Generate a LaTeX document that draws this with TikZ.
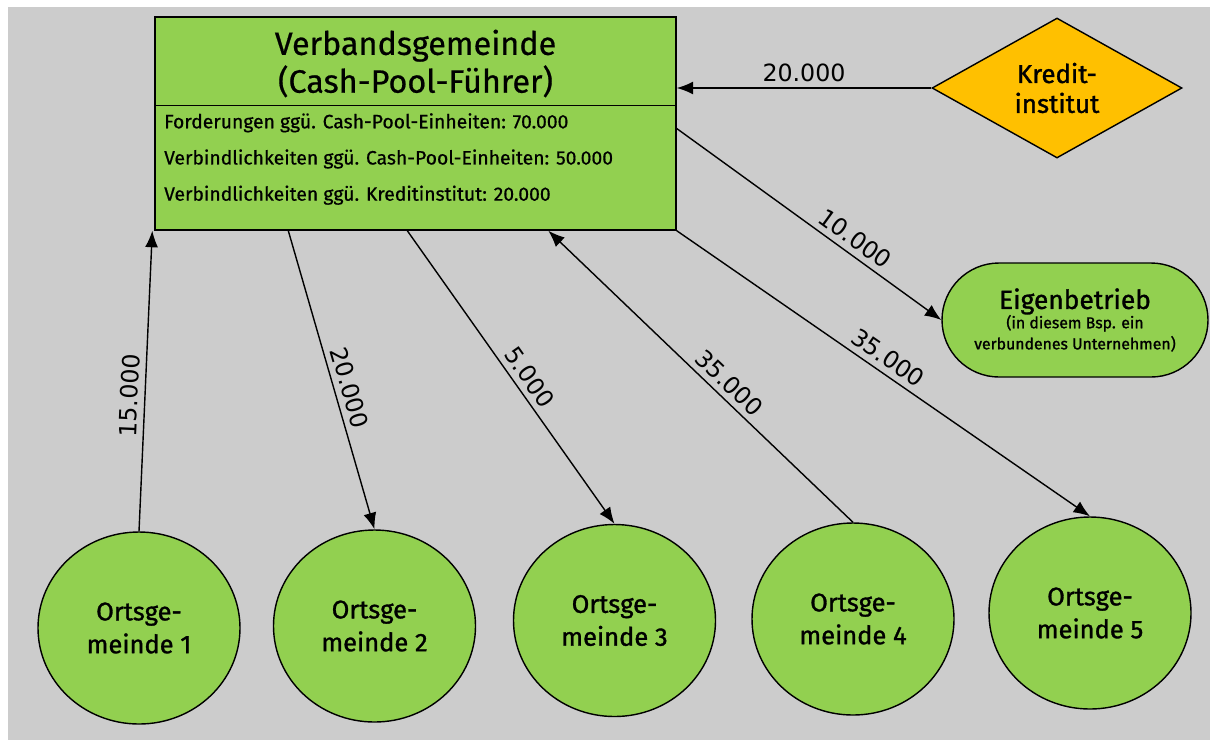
\documentclass[tikz,border=0pt]{standalone}
\usepackage{fontspec}
\setmainfont{Fira Sans}
\newfontfamily\labelfont{DejaVu Sans}
\newfontfamily\semifont{Fira Sans}[FakeBold=1.2]
\newfontfamily\medfont{Fira Sans}[FakeBold=0.6]
\usetikzlibrary{shapes.geometric,arrows.meta}
\definecolor{bggray}{HTML}{CCCCCC}
\definecolor{poolgreen}{HTML}{92D050}
\definecolor{kreditgold}{HTML}{FFC000}

\begin{document}
\begin{tikzpicture}
    \tikzstyle{flow} = [draw, line width=0.8pt, -{Latex[length=3.3mm,width=2.6mm]}]
    \tikzstyle{amount} = [font=\labelfont\fontsize{13.5}{15}\selectfont, sloped, above]
    \tikzstyle{poolbox} = [shape=rectangle, draw, line width=0.8pt, fill=poolgreen,
        minimum width=10.42cm, minimum height=4.26cm]
    \tikzstyle{ogcircle} = [ellipse, draw, line width=0.8pt, fill=poolgreen,
        minimum width=4.04cm, minimum height=3.84cm, align=center,
        font=\semifont\fontsize{14.5}{18.7}\selectfont]

    \useasboundingbox (0, 0) rectangle (24.2, -14.8);
    \fill[bggray] (0.16, -0.14) rectangle (24.2, -14.8);

    % Verbandsgemeinde
    \node[poolbox] (main) at (8.31, -2.47) {};
    \node[align=center, font=\medfont\fontsize{18.4}{21.5}\selectfont] (title) at (8.31, -1.27)
        {Verbandsgemeinde\\(Cash-Pool-Führer)};
    \draw[line width=0.8pt] ([yshift=-1.78cm]main.north west) -- ([yshift=-1.78cm]main.north east);
    \node[anchor=west, align=left, font=\medfont\fontsize{11}{20.6}\selectfont] (saldo) at (3.16, -3.18)
        {Forderungen ggü. Cash-Pool-Einheiten: 70.000\\
         Verbindlichkeiten ggü. Cash-Pool-Einheiten: 50.000\\
         Verbindlichkeiten ggü. Kreditinstitut: 20.000};

    % Kreditinstitut and Eigenbetrieb
    \node[diamond, draw, line width=0.8pt, fill=kreditgold, inner sep=0pt,
          minimum width=5.0cm, minimum height=2.8cm, align=center,
          font=\semifont\fontsize{14.7}{17}\selectfont] (kredit) at (21.14, -1.76)
        {Kredit-\\institut};
    \node[rectangle, rounded corners=1.14cm, draw, line width=0.8pt, fill=poolgreen,
          minimum width=5.32cm, minimum height=2.28cm, align=center,
          font=\semifont\fontsize{9}{12}\selectfont] (eigen) at (21.5, -6.4)
        {{\fontsize{15}{17}\selectfont Eigenbetrieb}\\[-1pt]
         (in diesem Bsp. ein\\verbundenes Unternehmen)};

    % Ortsgemeinden
    \foreach \i/\x/\y in {1/2.78/12.56, 2/7.49/12.52, 3/12.29/12.41, 4/17.06/12.38, 5/21.80/12.26}
        \node[ogcircle] (og\i) at (\x, -\y) {Ortsge-\\meinde \i};

    % Zahlungsstroeme
    \draw[flow] (kredit.west) -- (kredit.west -| main.east)
        node[amount, midway] {20.000};
    \draw[flow] ([yshift=-0.1cm]main.east) -- (eigen.west)
        node[amount, pos=.64] {10.000};
    \draw[flow] (og1.north) -- ([xshift=-0.04cm]main.south west)
        node[amount, pos=.45] {15.000};
    \draw[flow] ([xshift=2.68cm]main.south west) -- (og2.north)
        node[amount, pos=.54] {20.000};
    \draw[flow] ([xshift=5.06cm]main.south west) -- (og3.north)
        node[amount, pos=.53] {5.000};
    \draw[flow, {Latex[length=3.3mm,width=2.6mm]}-] ([xshift=7.88cm]main.south west) -- (og4.north)
        node[amount, pos=.56] {35.000};
    \draw[flow] (main.south east) -- (og5.north)
        node[amount, pos=.49] {35.000};

\end{tikzpicture}
\end{document}
